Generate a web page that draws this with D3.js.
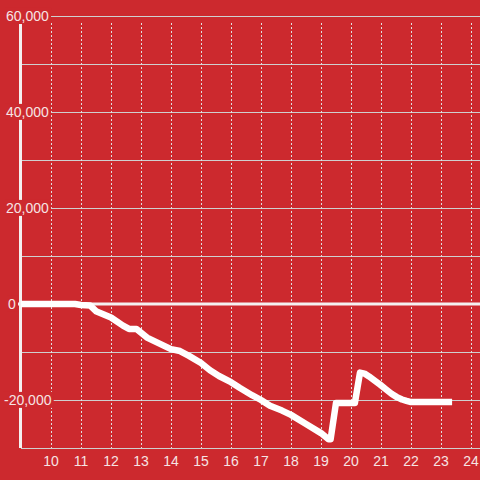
<!DOCTYPE html>
<html>
<head>
<meta charset="utf-8">
<script src="https://cdn.jsdelivr.net/npm/d3@7"></script>
<style>
  html, body { margin: 0; padding: 0; background: #cc292e; }
  svg { display: block; }
  .tick-label { font-family: 'Liberation Sans', Arial, sans-serif; font-size: 14px; fill: #f6e4e4; }
</style>
</head>
<body>
<div id="chart"></div>
<script>
// hour of day vs running balance
const hours = [9.0, 10.8, 11.0, 11.3, 11.5, 12.0, 12.4, 12.6, 12.85, 13.2, 13.6, 14.0, 14.3, 14.6,
  15.0, 15.3, 15.6, 16.0, 16.3, 16.7, 17.0, 17.3, 17.7, 18.0, 18.5, 19.0, 19.25, 19.32,
  19.5, 20.13, 20.3, 20.45, 20.6, 20.8, 20.97, 21.15, 21.35, 21.53, 21.7, 21.85, 21.97, 22.5, 23.37];
const balance = [0, 0, -200, -300, -1500, -2800, -4500, -5200, -5200, -7000, -8200, -9400, -9800, -10800,
  -12300, -13800, -15000, -16300, -17500, -19000, -20000, -21200, -22200, -23100, -25000, -26900, -28200, -28200,
  -20600, -20600, -14300, -14500, -15100, -16000, -16800, -17700, -18700, -19400, -19900, -20200, -20400, -20400, -20400];

const xTicks = [10, 11, 12, 13, 14, 15, 16, 17, 18, 19, 20, 21, 22, 23, 24];
const yTicks = [60000, 40000, 20000, 0, -20000];
const yGrid = [60000, 50000, 40000, 30000, 20000, 10000, 0, -10000, -20000, -30000];

const W = 480, H = 480;
const x = d3.scaleLinear().domain([9, 24.3]).range([21, 480]);
const y = d3.scaleLinear().domain([-30000, 60000]).range([448, 16]);

const svg = d3.select('#chart').append('svg')
  .attr('width', W).attr('height', H);

// horizontal grid
svg.append('g').selectAll('line')
  .data(yGrid.filter(d => d !== 0))
  .enter().append('line')
  .attr('x1', x(9)).attr('x2', W)
  .attr('y1', d => y(d) + 0.5).attr('y2', d => y(d) + 0.5)
  .attr('stroke', '#cfcfcf').attr('stroke-width', 1);

// vertical dashed grid
svg.append('g').selectAll('line')
  .data(xTicks)
  .enter().append('line')
  .attr('x1', d => Math.round(x(d)) + 0.5).attr('x2', d => Math.round(x(d)) + 0.5)
  .attr('y1', 23).attr('y2', y(-30000))
  .attr('stroke', '#e0e0e0').attr('stroke-width', 1)
  .attr('stroke-dasharray', '2,2');

// zero line
svg.append('line')
  .attr('x1', 17).attr('x2', W)
  .attr('y1', y(0)).attr('y2', y(0))
  .attr('stroke', '#f4f0f0').attr('stroke-width', 3);

// y axis line
svg.append('line')
  .attr('x1', 20.5).attr('x2', 20.5)
  .attr('y1', 24).attr('y2', y(-30000))
  .attr('stroke', '#f4f0f0').attr('stroke-width', 3);

// y labels with background
const yl = svg.append('g').selectAll('g')
  .data(yTicks)
  .enter().append('g');
yl.append('text')
  .attr('class', 'tick-label')
  .attr('x', d => d < 0 ? 4 : (d === 0 ? 8 : 6))
  .attr('y', d => y(d))
  .attr('dy', '0.35em')
  .text(d => d3.format(',')(d).replace('−', '-'));
yl.each(function() {
  const g = d3.select(this);
  const bb = g.select('text').node().getBBox();
  g.insert('rect', 'text')
    .attr('x', bb.x - 1).attr('y', bb.y)
    .attr('width', bb.width + 3).attr('height', bb.height)
    .attr('fill', '#cc292e');
});

// x labels
svg.append('g').selectAll('text')
  .data(xTicks)
  .enter().append('text')
  .attr('class', 'tick-label')
  .attr('x', d => x(d))
  .attr('y', 466)
  .attr('text-anchor', 'middle')
  .text(d => d);

// data line
const pts = hours.map((h, i) => [h, balance[i]]);
const line = d3.line().x(d => x(d[0])).y(d => y(d[1]));
svg.append('path')
  .datum(pts)
  .attr('d', line)
  .attr('fill', 'none')
  .attr('stroke', '#ffffff')
  .attr('stroke-width', 6.5)
  .attr('stroke-linejoin', 'round');
</script>
</body>
</html>
